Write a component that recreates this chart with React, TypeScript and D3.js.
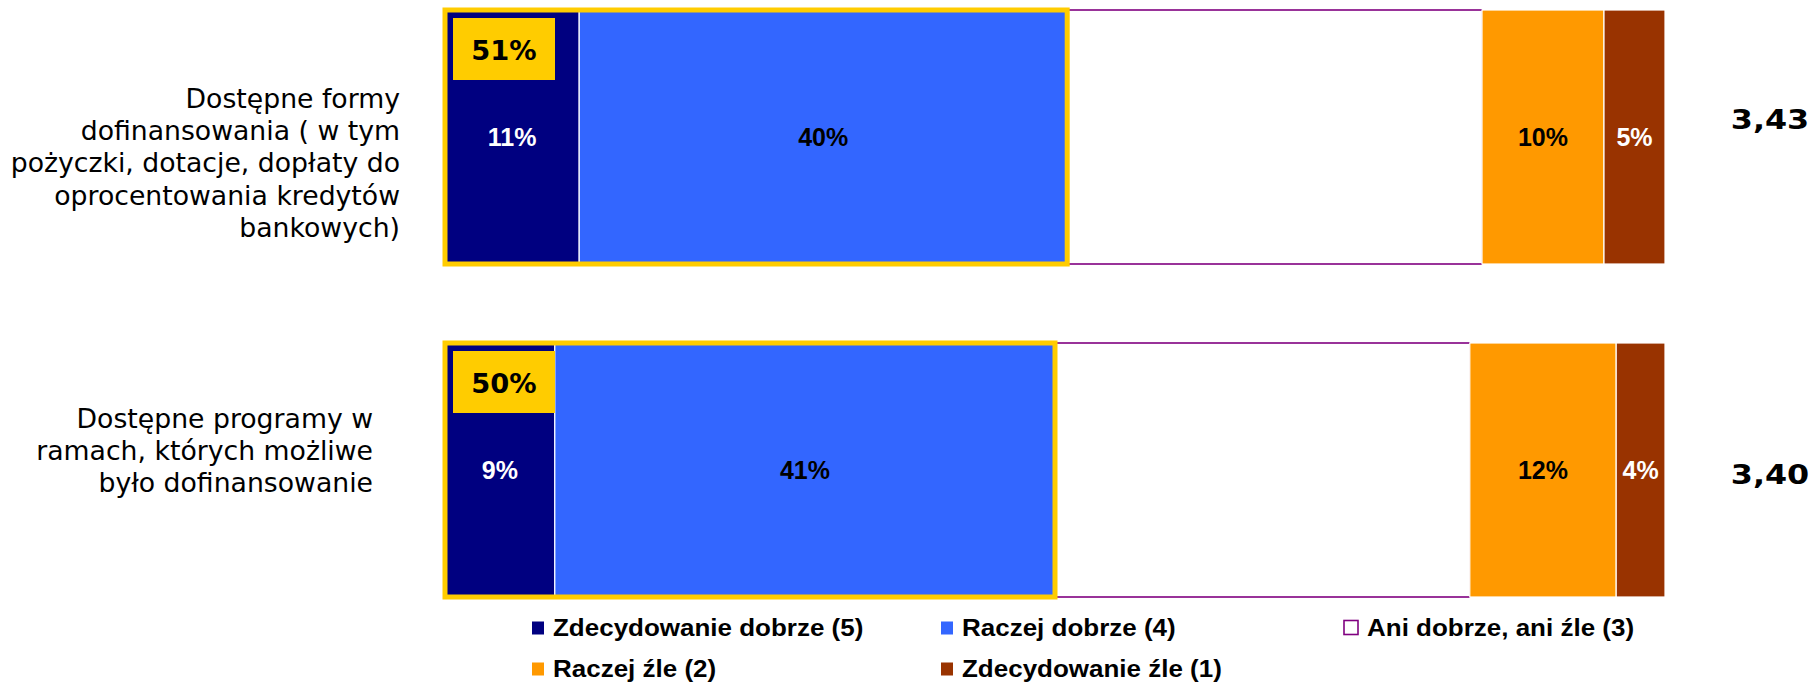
import React from "react";
import * as d3 from "d3";

// Survey rows (label lines, wrapped as in the report)
const categoryIds = ["forms", "programs"];
const categoryLines = [
  ["Dostępne formy", "dofinansowania ( w tym", "pożyczki, dotacje, dopłaty do", "oprocentowania kredytów", "bankowych)"],
  ["Dostępne programy w", "ramach, których możliwe", "było dofinansowanie"],
];

// Answer categories, best to worst
const seriesKeys = ["s5", "s4", "s3", "s2", "s1"];
const seriesNames = [
  "Zdecydowanie dobrze (5)",
  "Raczej dobrze (4)",
  "Ani dobrze, ani źle (3)",
  "Raczej źle (2)",
  "Zdecydowanie źle (1)",
];

// Shares (%) per row
const veryGood = [11, 9];
const ratherGood = [40, 41];
const neutral = [34, 34];
const ratherBad = [10, 12];
const veryBad = [5, 4];

// Mean score per row
const meanScores = [3.43, 3.4];

const W = 1814;
const H = 685;

const COLORS: Record<string, string> = {
  s5: "#000080",
  s4: "#3366FF",
  s3: "#FFFFFF",
  s2: "#FF9900",
  s1: "#993300",
};
const LABEL_COLORS: Record<string, string> = {
  s5: "#FFFFFF",
  s4: "#000000",
  s3: "#000000",
  s2: "#000000",
  s1: "#FFFFFF",
};
const PURPLE = "#993399";
const GOLD = "#FFCC00";

const ARIAL = "'Liberation Sans', Arial, Helvetica, sans-serif";
const VERDANA = "'DejaVu Sans', Verdana, sans-serif";

// per-row text placement for the category captions and mean scores
const captionRight = [400, 373];
const captionFirstBaseline = [108, 428];
const scoreDy = [-8, 14];

const rows = categoryIds.map((id, i) => ({
  id,
  s5: veryGood[i],
  s4: ratherGood[i],
  s3: neutral[i],
  s2: ratherBad[i],
  s1: veryBad[i],
}));

const fmtPct = (v: number) => `${v}%`;
const fmtScore = (v: number) => v.toFixed(2).replace(".", ",");

export default function App() {
  const x = d3.scaleLinear().domain([0, 100]).range([445, 1665]);
  const y = d3
    .scaleBand<string>()
    .domain(categoryIds)
    .range([10, 597])
    .paddingInner(0.2372)
    .paddingOuter(0);
  const bw = y.bandwidth();

  const stacked = d3.stack<any>().keys(seriesKeys)(rows);

  const legendCols = [532, 941, 1346];
  const legendRows = [636, 677];

  return (
    <svg
      width={W}
      height={H}
      viewBox={`0 0 ${W} ${H}`}
      style={{ position: "absolute", left: 0, top: 0, background: "#fff" }}
    >
      {/* category captions */}
      {categoryLines.map((lines, i) => (
        <text
          key={"cap" + i}
          textAnchor="end"
          fontFamily={VERDANA}
          fontSize={26.7}
          fill="#000"
        >
          {lines.map((ln, j) => (
            <tspan key={j} x={captionRight[i]} y={captionFirstBaseline[i] + j * 32.2}>
              {ln}
            </tspan>
          ))}
        </text>
      ))}

      {/* stacked segments */}
      {stacked.map((layer) => (
        <g key={layer.key}>
          {layer.map((d, i) => {
            const x0 = x(d[0]);
            const x1 = x(d[1]);
            const top = y(rows[i].id)!;
            if (layer.key === "s3") {
              return (
                <g key={i}>
                  <rect x={x0} y={top} width={x1 - x0} height={bw} fill="#fff" stroke={PURPLE} strokeWidth={1} strokeOpacity={0.35} />
                  <line x1={x0} x2={x1} y1={top} y2={top} stroke={PURPLE} strokeWidth={2} />
                  <line x1={x0} x2={x1} y1={top + bw} y2={top + bw} stroke={PURPLE} strokeWidth={2} />
                </g>
              );
            }
            return (
              <rect
                key={i}
                x={x0}
                y={top}
                width={x1 - x0}
                height={bw}
                fill={COLORS[layer.key]}
                stroke="#fff"
                strokeWidth={1.2}
              />
            );
          })}
        </g>
      ))}

      {/* segment value labels */}
      {stacked.map((layer) =>
        layer.key === "s3"
          ? null
          : layer.map((d, i) => {
              const v = d[1] - d[0];
              const cx = (x(d[0]) + x(d[1])) / 2;
              const cy = y(rows[i].id)! + bw / 2;
              return (
                <text
                  key={layer.key + i}
                  x={cx}
                  y={cy + 9}
                  textAnchor="middle"
                  fontFamily={ARIAL}
                  fontWeight="bold"
                  fontSize={25}
                  fill={LABEL_COLORS[layer.key]}
                >
                  {fmtPct(v)}
                </text>
              );
            })
      )}

      {/* combined positive share: gold frame and tag */}
      {rows.map((r, i) => {
        const top = y(r.id)!;
        const pos = r.s5 + r.s4;
        const x0 = x(0);
        const x1 = x(pos);
        const tagX = x0 + 8;
        const tagY = top + 8;
        return (
          <g key={"frame" + i}>
            <rect x={x0} y={top} width={x1 - x0} height={bw} fill="none" stroke={GOLD} strokeWidth={5} />
            <rect x={tagX} y={tagY} width={102} height={62} fill={GOLD} />
            <text
              transform={`translate(${tagX + 51},${tagY + 42}) scale(1.05,1)`}
              textAnchor="middle"
              fontFamily={VERDANA}
              fontWeight="bold"
              fontSize={26}
              fill="#000"
            >
              {fmtPct(pos)}
            </text>
          </g>
        );
      })}

      {/* mean scores */}
      {rows.map((r, i) => (
        <text
          key={"score" + i}
          transform={`translate(1770,${y(r.id)! + bw / 2 + scoreDy[i]}) scale(1.2,1)`}
          textAnchor="middle"
          fontFamily={VERDANA}
          fontWeight="bold"
          fontSize={26.5}
          fill="#000"
        >
          {fmtScore(meanScores[i])}
        </text>
      ))}

      {/* legend */}
      {seriesKeys.map((k, i) => {
        const col = i % 3;
        const row = Math.floor(i / 3);
        const lx = legendCols[col];
        const ly = legendRows[row];
        const neutralKey = k === "s3";
        return (
          <g key={"lg" + k}>
            {neutralKey ? (
              <rect
                x={lx - 2}
                y={ly - 15.5}
                width={14}
                height={14}
                fill="#fff"
                stroke="#800080"
                strokeWidth={1.6}
              />
            ) : (
              <rect x={lx} y={ly - 14.5} width={12} height={13} fill={COLORS[k]} />
            )}
            <text
              transform={`translate(${lx + 21},${ly}) scale(1.13,1)`}
              fontFamily={ARIAL}
              fontWeight="bold"
              fontSize={23}
              fill="#000"
            >
              {seriesNames[i]}
            </text>
          </g>
        );
      })}
    </svg>
  );
}
